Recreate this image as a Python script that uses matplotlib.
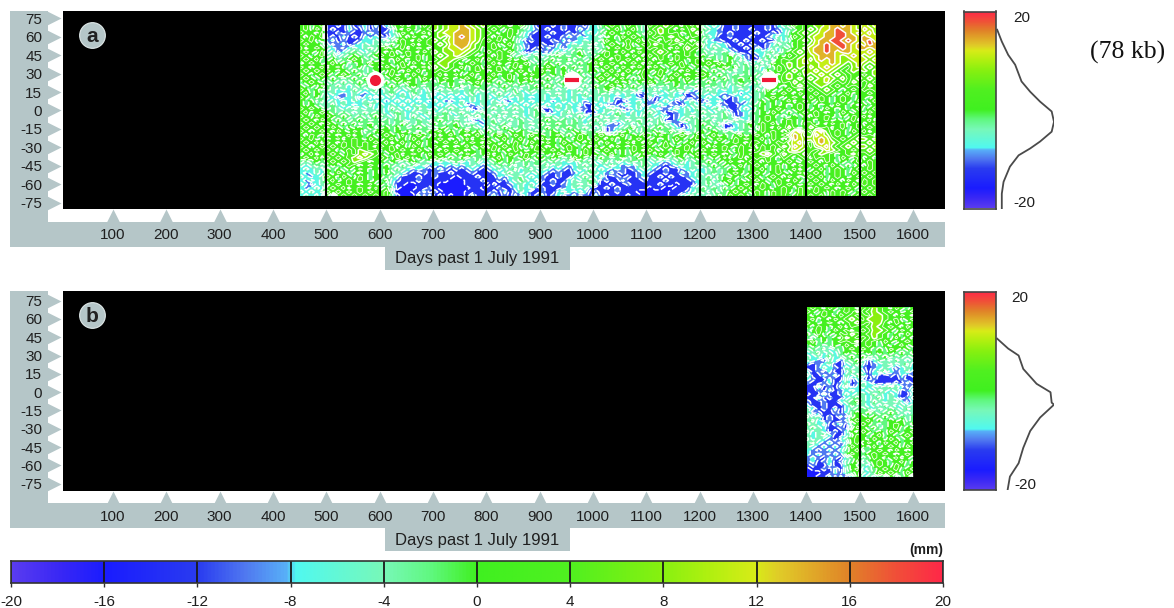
import numpy as np
import matplotlib
matplotlib.use('Agg')
import matplotlib.pyplot as plt
from matplotlib.colors import LinearSegmentedColormap
from matplotlib.patches import Rectangle

W, H = 1174, 608
GRAY = '#b5c6c8'
INK = '#1f1f1f'

day_ticks = [100, 200, 300, 400, 500, 600, 700, 800, 900, 1000, 1100, 1200, 1300, 1400, 1500, 1600]
lat_ticks = [75, 60, 45, 30, 15, 0, -15, -30, -45, -60, -75]
scale_ticks = [-20, -16, -12, -8, -4, 0, 4, 8, 12, 16, 20]

# colour scale (mm, colour)
scale_nodes = [(-20, '#5a3cf0'), (-18, '#3a28f5'), (-16, '#1a1cff'), (-12, '#2a3cf0'), (-10, '#5078f0'),
               (-8.2, '#58b0f8'), (-7.8, '#50f8f0'), (-4, '#78f8b8'), (-2, '#60f880'), (0, '#40f020'),
               (4, '#50f020'), (8, '#88f010'), (10, '#b0f010'), (12, '#d8ec18'), (13, '#e0cc28'),
               (16, '#e08428'), (18, '#f05038'), (20, '#ff2848')]

# histograms next to the side bars
hist_a_mm = [16.3, 13.9, 11.2, 9.2, 5.8, 3.7, 1.7, -0.3, -2.4, -4.4, -6.4, -7.8, -9.2, -11.5, -14.6, -17, -20]
hist_a_freq = [.02, .10, .21, .33, .44, .59, .76, .96, 1.0, .96, .76, .59, .39, .24, .13, .10, .10]
hist_b_mm = [10.5, 8.5, 7.1, 4.4, 1.4, -0.3, -2.4, -2.8, -5.4, -8.1, -11.5, -14.6, -17.3, -20]
hist_b_freq = [.02, .21, .39, .47, .70, .94, .96, 1.0, .76, .59, .47, .39, .24, .20]

# anomaly classes used in the maps below, letter -> mm
class_letters = 'ABCDEFGHIJKL'
class_mm = [-16, -13, -10, -7, -4, -2, 1, 4, 8, 11, 14, 18]

# map a, rows 69N to 69S, days 452 to 1529, grouped by 100 days
field_a_days = (452, 1529)
field_a = [
    'GHFGH BBCBDBCDBD BDFGHFGFHG IHIJJKJIHI HGHGFGHFDB BBCBCBBCBD DFGHGFHGFE HGHIHGFHGI EDEDBBCBBB BBCBDEFHGH HIIJKKJKJI JIJ',
    'GHFHG BCBBDCBDBC BBDGFHGFGH IHIJJKKJIH GHGFHGFEDC BCBBCBBDCD DEFGHFGHFE GHIHGFHGIH FEDCBBCBBC BBCBCDEFGH IHJJKLKKJI KJI',
    'HGGFH BBCBCBBCDC BCDFHGFGHF HIJJKKKJIH HGFGHGFDCB BBCBBCBCDE DFGHGFHGFE HGIHGHFGHI EDDCBCBBBB CBBCBDFGHI HIJKKLLKJK JKI',
    'GFHGH BCBDBCBDCD CBDEGFHGFG HIHJKLKJIH GFHGHFEDBB BCBBCDCDCD EDFGFHGHGF GHGHIHGFHG FEDBBCBBBC BBCDEDFHGH IJJKKLLKKJ KJJ',
    'HGHFG CDBCBBCDDE DFEGHGFHGH IHIJKKKJIG HGHFGFDBCB BBCBDBCDED EFHGFGHGHF HGFHGIHGFG EDCCBBCBCB BCBBEDEGHI HJKKLLKLKJ KLJ',
    'GHGGF DBCDBCDEDE FDGFHGHFGH HIHJKKKIHG GHFGHFDCBB CBBDCDEDEF DEGHGFHFGH GIHGHGFHGI FDEDDBBCBC BBCDFEFGHG IJKLKLLKJK JLK',
    'HFGHG EDCBDEDEFE GHFGHFGHGF HHIJJKJIHF GHGFGFECBC BDCDBDEFED FEFGHGHGFG HGHGFHGIHG EDFEDCBBCB DBCEDFEGHI JKKLKKLKJK KJK',
    'GHGFH DEBDEFEDEF GFHFGHGFHG IHIIJJIHGF HGHGHFDBCD CBDEDEFGEF EFHGFHGFHG GHIHGFGHGF FEDEFDCBBC DDEFDFGHIH JKKLKJKKJJ JKJ',
    'HGFGH EFDEFGFEFG HGHGFHGHFG HIHIJIHGFG GFHGFEFDEF DEFGFEFGFE FGHGHGFHGF HGHGFHGHGF GEFEFGFDCB CDFEGFHGHI IJKKKJIJKJ IJI',
    'GHGHF FGEFGHGFEF FGFHGFGHFG GHIIHGFGHF HGHGHFGFEF EFGEFGEFEF GHGFHGHGFH GFHGFHGFGH FGFEFGEFCB BEFDGHGHIJ HJKJKJIIJJ JIJ',
    'FGHGF GHFGEFGFHG HGFGHFHGFH HIIHGFGHGF GHFGFHGHFE FGFGFEFGFG HFGHGFGHGF HGFGHGHFGH GHGHFGFEFD EFDHGHIHIJ IIJJKJIHIJ IHI',
    'HGFGH FGHFEFGEFG FHGFHGFGHF IHIHGHFGHF HGHFGHFGFG FHGFGFGEFG FGHGFHGFHG FHGFGFHGFG FGFGHFGEFE FDEFHGIHIH JIJKJIHGIJ HIH',
    'GHGHG HGFGFGFEFG GFHGFHGHFG HGHGFGFGHG FGHGFGHGFG HFGFGEFGFG GFGHFGHGFH GFHGFGFHGF GFGFEFDEFE EDGFHGHIHI IJIJIHGHIH IHI',
    'HGFGH GFGHGFGEFE FGHFGFHGFG GHFGHFGHFG GHFGHFGFHG GFGFGFEFEF FGHGHFGFGH FGHFGHGFGH HGFGFEFEFE FEHGFHIHGI HIJIHIHGHH GHI',
    'GHGFG FGFEFGFGFE GFGHGFGFHG FGHGFGHGFG HGFGHFGHFG FGFEFGFGFE GHGFGHFGFH GFGFHGFHGF GFGFGEFGFG EFGHGHIHIH IHIJIHIGHI HIH',
    'FGHGF EFEFEFGFGE FGFGFHGFGF EGFGFEFGHF GFGFGFGFGF GFEFGFEFEF FGFGHFGFGF HGFGFGFGFE FGFEFEFGFE FEFGFHGIHG HIIJHGHGIH GHG',
    'GFGFH FEFEDEFEFE EFGFEFGFEF FEFGFGEFGF FEFGFEFEFG FGFEFEFEFE GFGHFGFGFE FEFEFGFEFG FEFEFDEFED EDFHGFGHIH GHIHGHGHGH GIH',
    'HGFGE FEDEDFEDEF DEFEDEFEDF EFEFEDEFEF EFEFEFDEFE EFEDEDEFED EFGFEFEFED EFDEFEFEDC EFEDEDEDED FEHGFGHGFG HGHIHGFGHG HGH',
    'GHFGF DEDCDEDCDE DEFDEDFEDE CDEDEDEFDE DEFEDFEDED EDEFEDEDFE EFEDFDEDBC EDEDEDCBCD EDEDCDECDE EFGFGHGFHG GHGHGFGHFG GHG',
    'HGFGE EDBCDEBDEB EDEDEDECDE DEDEDCDEDE EDEDEDEDCD EDEDEDEDED EDEDCDEDCB EBCDEDEBBC DEDCDBCDED EFGHGFGHGF HGHGFGHGFG GFG',
    'GFGEF DEDEDEDEDE DCDEDEDEDC EDCBDEDEDE DEDBCDEDED EDCDEDEDCD EDEDBBCDED CBDEDBCDEB BCDEBBCDCE EGFGFGHFGH GFHGFGHGFH FGH',
    'GFGFE EFDEDCDEFD EDEDEDEDED DEDEDEBCDE DEFEDEDEDE DEDEDEDEBB DEBCBDEDEB CDEDBCBDED DEDBCBBCDE FGFGFGFGHG FGFGFHGFGF GFG',
    'HGHGF EFEDEFEDED EDFEDEDFED EDEFEDFBBD EFEDEFEDEF BBDEDEDBCB EDEFEBBDED EDBCDEDEDF EDEFDBBDED FGFGHGFGHG FGFHGFGFGH FGH',
    'GHFGH GFEFEDEFEF EDEFEDEDEF DEFDEFEDEF EDEFEDEDEF EBCDEFDEBB CDEDFEDEDE FEDBBCDEDE FEDEFDBCDE FGFHGFGFGH GHGFGFHGFG FHG',
    'HGFHG HGFGFEFEFG FEDFEDFEDE FEFEDEFEFE FEFDEFEDEF EFEDEDEFED EFDEFEDEDF EDEDBCDEFE DEFEFEBCDE FGHGFEFGFG FHGHGFGFHG HFG',
    'GHGFH GFGFEFGFEF EFEFEDEFED FGFEFEDBCD EFDEFEFEDE FGFEFEFEDE FEFEDEFEFE FEFBBCEFEF EFDEFEFEDE FGHGFGHGFG GFGHFGFGHF GHF',
    'HGHGF HGFGFGEFGF GFEFGFEFEF GFEFGEFEDC EFEFDEFEFE GEFGFEFEDF EFDCBDEDFE DEFEDCBDEF GFEFBCDEFG FHGHFGHGFH HFGFHGHFGH FGH',
    'GHGHG FHGFGFGFGE FGFGFEFGFE EFGFGFEFED FEFGFEFEDE FGFEFGFEFE DEBCDEFGEF EFGFEDBCEF FGFEBBDEFG EHGFHGIGFG IHGHFGHFGH GHG',
    'HGFGH GFHGFHGEFG HGFGFGFEFG GHFGFGHFGE GFEFGFGFEF EFGFEFGFEF EFBCEFGFEF FGEFGEFDEF GFGFEFDEFE FHGHGFGJKH GJKHGHGFHG HFG',
    'GFHGF HGFGHFGFGF GHGFHFGHGF HFGHFGFGHF FGHGFHGFHG GFGHFGFHGF GHGFGHFGFH GFHGFGHGFH FGHFGFGHFG HGFHGHIKJH HKJIGHGFGH GHF',
    'HGHFG FGHFGHGFHG FGHFGFHGFG GHGFGFHFGH GFGHFGHFGF HFGFGFGHGF HGFHFGFGHG FGFGFHGFGH GFGHGFHGHG GHFHGFGKJI IJKJHGHGHI IHI',
    'GHGHF HGFHGHGHGH GHFGHFGHFG FGHGHFGHGF HGFGFHGFHG FHGFHGFGFH GFHGFGHFGF HGFHFGFGHF HGFGFGHGFH HGFGHGIJKH GJKJIHGHIH HIH',
    'HGFGH GHGHGHGHGF HGHFGFHGFG HGFGFGHFGH FHGHGHFGFH GFGFGHGFGF HFGFHGFHGH GFGHGFGHGF GFHGHGFHGH FHGHGIHKJI GIJKHGHIHI IHI',
    'GHGHG HGFGHGIHGH FGHGHGFHGF GFHGHGFGFG GHFGFHGFGH HGHGFHGFHG FGHGFGFHGF HGFGFHGHFG HGFGHFGHGF GHGHFGIJIH HGHJIHGHGH HIH',
    'FGHFG GHGFHGIJIH GFGHFGHGFH GHGFGFHGFG HFGFHGFHGF FGFHGFGFHG GFGHFGFGFH GFHGFHGFGH FGHGFGFHGH HIJHGIHGHI GHIHGFGHIG GHG',
    'GHGHF HGHGHIJIHG HGFHGHFGFG HGFGFGFEFE FGHFGFGHFG GFGFEFHGFE FGFEFGEFGF EFGFEFGEFG GFGFHFGHFG HGHGFHGFGH FHGHGFHGFH FGF',
    'FEFGF GHGHGIHGFG GFGFEFGFEF DEDEFEDEFD EFGFGFEFEF FEFEDEDFEF DEFDFDEFEF DEDCDEFDEF FGFGFHGFGH GFHGFGHGFG HGFHGFGFGH GHG',
    'EDEFE FGFGHGFGHG FGFEFEFDEC DCDCDCDEDC DEFEFDEFEF EFDEDCDEFE EDEFDCDCEF EDCBCDEDEF EFGFGFGHFG HGFGHFGFHG GHGFHGFGFG FHG',
    'DEDED GFGFGFHGFG FGEFEDCDCB CDCBCBCDCB CDEDEFDEFD EDCDCBDEDF DEDCDCBCDE DCBCBBCDED DEFEFGFGFG GHFGHFGHFG FGHFGHGFGH GHG',
    'DCDED GFHGFGFGFG FGFEDCBBCB CBBCBBBCBB BCDEFEDEDE DCBCBBCDEF EDCDBCBBCD CBBCBBDCDE DEFEFGHGFG HGFGHGFGHF GHGFGHGFHG HGH',
    'EDCDE HGFHGFHGFG GFEDBBBCBB CBBBABBBCB BBDCDEFDED CBBCBBDEFE DEBBCBCBCD BBCBCBBCDE EFEFGFGFGH GFGHGFHGFG HGHFGHGFGH GHG',
    'DCEDE GHFGHGHGFG FGDCBBBCBB BBBAAABBBC BBCBDEFEDE CBCBBDEDEF EBCBBDBBBC BBBCBBBBCD EFDFGHFGFG HGFGHGFHGF GHGFHGFHGF HGH',
    'EDBDE FGHGHGFGHF GFDBBAABBB BAAAAABBBB ACBBCDEDED BBCBCDEFEF DBBCBBCBBB BBCBBABBBD EFEDFGFGHG FHGFHGHGFG HGHGFHGFHG HGH',
    'DCDED GHGHFGHGFH FGEBAAABBC BAAAAAABBA BBCBBDEDEB CBBBCDEDEC BBCBCBBBBB ABBAABBBDE FEFEGFGHGH GHGFGHGFHG FHGHGFGHGF GHG',
    'EDEDE HGHGHGHGHG GHEAAABBDB CBAAAABBBB BCBDBCEDBB CBBDEDCEDB CBBBCBBBAA AAAABBBCDE FDFEFGHGFG HGFHGHGFHG GHGFHGHGFG HGH',
    'DEDEC GBGHGHGHGH GHEBAAADBD BCABAABDBB CDBCBDBDBC DBCDBCDBCB DBCBBBCBBA AAAABBDEFD EFEGFHGHGF HGFHGHFGHG HGHFHGHFGH GHG',
]
cycles_a = [500, 600, 700, 800, 900, 1000, 1100, 1200, 1300, 1400, 1500]
# small red anomalies near 25N
spot_days = [592, 960, 1330]
spot_lats = [25, 25, 25]
spot_markers = ['o', '_', '_']

# map b, days 1402 to 1600
field_b_days = (1402, 1600)
field_b = [
    'GHGFHGFHGF HGIHGFHGFG', 'HGFHGFGHGI GHIHGHGFGH', 'GFGHGFHGHG HGIIHGFHGF', 'GHFGFHGHIH GIIIHGHFGH',
    'HGFGHGFGHI HGIIGFHGFG', 'GFHGFGHFHG GHIHGHGFHG', 'FGHGFHGHFG HGIIHGFHGF', 'GFHFGFHGIH GHIHGFGFHG',
    'FEFGFGFIHG HGIHGFHFGF', 'GHFGFGHGHI GHGFHGFGHG', 'FGFEFGFHGF GHGFGFGHFG', 'EFEFDEFGHG HGFGFHGFGF',
    'DEFDEDFGFG FGFGFGFGFG', 'EDEDFDEFGF GFEFGFEFEF', 'EDCBEDBEFG EBDFEDFEDE', 'CBCDEBBDEF DBCDEFDEFD',
    'BBCEDCBEDE CBCDEDBDED', 'DBCBDBBDFE DBDEFDCDEC', 'EBBDCDBEDF EBDBBCBDBC', 'DCBBDBBEBD CBCBBBBCBB',
    'CBBCDBCEBC EDBBBBCBDB', 'BBEBCBDFBD EDEDEFEDBD', 'BBCBDBCDED DEDFEDEBCE', 'ABBEBBCEDE EDFEDEDBBD',
    'BBEBCBBDEF EDEFDEDBCE', 'CBBCBBDEFG EDFEDEFDBD', 'DBBCBBBDFE EDEDFEDEDE', 'EDBCBDBDEF FEDFEFEDFE',
    'EBCBBCBDFG FGFEFGFEDE', 'FDEBCBDBFG GFGFGFEFEF', 'EFDBCBBDGH GHFGFGFGEF', 'FEDEBCDBEG HGFEFGHGFG',
    'EFEDBBCBFH GFGEFGHFGF', 'FDEDBCBDGF HGFGFHGFGH', 'EDEFDBBDFH GFGHFGFGHG', 'FDEDCBDEGH GFHGFHGFGF',
    'EFDCDCBDGH FHGFHGHFGH', 'EDCDCDCEHG GFHFGHGFHG', 'DCBCDCDFGH EFGHGFHGFG', 'DCDCBDCFHG FGHGHGFGHG',
    'CDCBDCBDFG EFHGFGHFGF', 'CDBCDBCEFH DFGHGFGHFG', 'BCBBDBBEGF EDGHGFHGFG', 'ABBCBDBEGH DEFGHGHFGH',
    'AAABBDBEFG EDFHGHGFHG', 'AABBDBDBDG DEDFDGDFGD',
]
cycles_b = [1500]

plt.rcParams['font.family'] = ['Liberation Sans', 'DejaVu Sans']
plt.rcParams['axes.unicode_minus'] = False
cmap = LinearSegmentedColormap.from_list('ssh', [((v + 20) / 40, c) for v, c in scale_nodes], N=256)


def decode(rows):
    lookup = dict(zip(class_letters, class_mm))
    cells = [''.join(r.split()) for r in rows]
    n = max(len(c) for c in cells)
    return np.array([[lookup[ch] for ch in c.ljust(n, c[-1])] for c in cells], dtype=float)


def px_axes(fig, left, top, right, bottom):
    return fig.add_axes([left / W, 1 - bottom / H, (right - left) / W, (bottom - top) / H])


def px_rect(fig, left, top, right, bottom, color):
    fig.add_artist(Rectangle((left / W, 1 - bottom / H), (right - left) / W, (bottom - top) / H,
                             transform=fig.transFigure, color=color, lw=0, zorder=-1))


def draw_panel(fig, top, bottom, ylim, letter, field, days, cycles, band_top, band_bottom, tab_bottom):
    # gray frame behind the axes
    px_rect(fig, 10, top, 48, band_bottom, GRAY)
    px_rect(fig, 10, band_top, 945, band_bottom, GRAY)
    px_rect(fig, 385, band_bottom, 570, tab_bottom, GRAY)

    ax = px_axes(fig, 63, top, 945, bottom)
    ax.set_facecolor('black')
    ax.set_xlim(6.25, 1660)
    ax.set_ylim(*ylim)
    for s in ax.spines.values():
        s.set_visible(False)

    ax.set_xticks(day_ticks)
    ax.set_yticks(lat_ticks)
    ax.tick_params(length=0, labelsize=11, labelcolor=INK)
    ax.tick_params(axis='x', pad=14)
    ax.tick_params(axis='y', pad=15)
    ax.set_xlabel('Days past 1 July 1991', fontsize=12, color=INK, va='center')
    ax.xaxis.set_label_coords(0.47, -49 / (bottom - top))

    # triangles instead of tick marks
    ax.plot(day_ticks, [-0.035] * len(day_ticks), ls='', marker='^', ms=9.4, mfc=GRAY, mec='none',
            clip_on=False, transform=ax.get_xaxis_transform())
    ax.plot([-0.0102] * len(lat_ticks), lat_ticks, ls='', marker='>', ms=9.4, mfc=GRAY, mec='none',
            clip_on=False, transform=ax.get_yaxis_transform())

    z = decode(field)
    x = np.linspace(days[0], days[1], z.shape[1])
    y = np.linspace(69, -69, z.shape[0])
    mm = np.array(class_mm, dtype=float)
    edges = (mm[:-1] + mm[1:]) / 2
    fill = [cmap((v + 20) / 40) for v in mm]
    ax.contourf(x, y, z, levels=np.r_[-30, edges, 30], colors=fill)
    # the line between the two pure green classes is fainter
    lines = [e for e in edges if e != 2.5]
    ax.contour(x, y, z, levels=[2.5], colors='white', linewidths=0.55)
    ax.contour(x, y, z, levels=lines, colors='white', linewidths=1.1)
    ax.vlines(cycles, -70, 70, color='black', lw=1.5)

    ax.plot([0.033], [0.88], marker='o', ms=18.5, mfc=GRAY, mec='#dfe8e8', mew=0.8,
            transform=ax.transAxes, clip_on=False)
    ax.text(0.033, 0.88, letter, transform=ax.transAxes, ha='center', va='center_baseline',
            fontsize=15, fontweight='bold', color='#222222')
    return ax


def draw_side(fig, top, bottom, mm, freq, label_top, label_bottom):
    ax = px_axes(fig, 964, top, 996, bottom)
    ax.imshow(np.linspace(20, -20, 256)[:, None], cmap=cmap, vmin=-20, vmax=20, aspect='auto',
              extent=(0, 1, -20, 20))
    ax.set_xticks([])
    ax.set_yticks([])
    for s in ax.spines.values():
        s.set_color('#444444')
        s.set_linewidth(1.2)

    curve = px_axes(fig, 996, top, 1054, bottom)
    curve.plot(freq, mm, color='#4a4a4a', lw=1.3)
    curve.set_xlim(0, 1)
    curve.set_ylim(-20, 20)
    curve.axis('off')

    fig.text(label_top[0] / W, 1 - label_top[1] / H, '20', fontsize=11, color=INK, ha='center', va='center')
    fig.text(label_bottom[0] / W, 1 - label_bottom[1] / H, '-20', fontsize=11, color=INK, ha='center', va='center')


fig = plt.figure(figsize=(W / 100, H / 100), dpi=100)

ax_a = draw_panel(fig, 11, 209, (-79.9, 80.7), 'a', field_a, field_a_days, cycles_a, 222.5, 247, 270)
draw_panel(fig, 291, 491, (-80.9, 82.8), 'b', field_b, field_b_days, cycles_b, 503, 528, 551)

for d, lat, m in zip(spot_days, spot_lats, spot_markers):
    ax_a.plot(d, lat, marker='o', ms=13, mfc='white', mec='none', zorder=3)
    if m == 'o':
        ax_a.plot(d, lat, marker='o', ms=8, mfc='#f01838', mec='none', zorder=3.1)
    else:
        ax_a.plot(d, lat, marker='_', ms=10, mew=3, color='#f01838', zorder=3.1)

draw_side(fig, 11.5, 208.5, hist_a_mm, hist_a_freq, (1022, 18), (1024, 203))
draw_side(fig, 291.5, 490, hist_b_mm, hist_b_freq, (1020, 298), (1025, 485))

# bottom scale bar
bar = px_axes(fig, 11, 561, 943, 583)
bar.imshow(np.linspace(-20, 20, 512)[None, :], cmap=cmap, vmin=-20, vmax=20, aspect='auto', extent=(-20, 20, 0, 1))
bar.vlines(scale_ticks, 0, 1, color='#1a1a1a', lw=1.3)
bar.set_yticks([])
bar.set_xticks(scale_ticks)
bar.tick_params(axis='x', length=3, width=1, pad=6, labelsize=11, labelcolor=INK, color='#333333')
for s in bar.spines.values():
    s.set_color('#333333')
    s.set_linewidth(1.2)

fig.text(943 / W, 1 - 550 / H, '(mm)', fontsize=10, fontweight='bold', color=INK, ha='right', va='center')
fig.text(1090 / W, 1 - 52 / H, '(78 kb)', fontsize=18.5, family=['Liberation Serif', 'DejaVu Serif'],
         color='#111111', ha='left', va='center')

fig.savefig('out.png', dpi=100)
